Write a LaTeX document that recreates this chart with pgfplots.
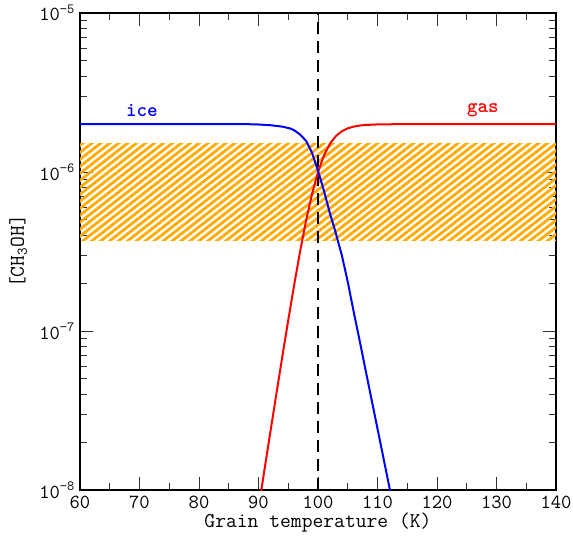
\documentclass[border=0pt]{standalone}
\usepackage{fontspec}
\newfontface\monobold{lmmonolt10-bold.otf}
\usepackage{pgfplots}
\pgfplotsset{compat=1.18}
\usetikzlibrary{patterns.meta}
\definecolor{bandorange}{RGB}{255,170,0}
\begin{document}
\begin{tikzpicture}
\begin{axis}[
  scale only axis, width=476pt, height=477pt,
  ymode=log, xmin=60, xmax=140, ymin=1e-8, ymax=1e-5,
  xtick={60,70,...,140}, minor x tick num=1,
  ytick={1e-8,1e-7,1e-6,1e-5},
  yticklabels={10\textsuperscript{−8},10\textsuperscript{−7},10\textsuperscript{−6},10\textsuperscript{−5}},
  minor ytick={2e-8,3e-8,4e-8,5e-8,6e-8,7e-8,8e-8,9e-8,2e-7,3e-7,4e-7,5e-7,6e-7,7e-7,8e-7,9e-7,2e-6,3e-6,4e-6,5e-6,6e-6,7e-6,8e-6,9e-6},
  /pgf/number format/assume math mode=true,
  tick align=inside, major tick length=13pt, minor tick length=7pt,
  tick style={black!80, line width=0.8pt},
  axis line style={line width=1.2pt},
  tick label style={font=\ttfamily\fontsize{20}{24}\selectfont},
  xticklabel style={anchor=center, yshift=-12.5pt, inner sep=0pt},
  yticklabel style={anchor=east, xshift=-5pt, inner sep=0pt},
  label style={font=\ttfamily\fontsize{21}{24}\selectfont, inner sep=0pt},
  xlabel={Grain temperature (K)},
  ylabel={[CH\textsubscript{3}OH]},
  xlabel style={at={(axis description cs:0.5,-0.069)}, anchor=center},
  ylabel style={at={(axis description cs:-0.13,0.5)}, anchor=center},
  clip=true,
]
\coordinate (bl) at (rel axis cs:0,0);
\coordinate (tr) at (rel axis cs:1,1);
\addplot[draw=none, pattern={Lines[angle=38,distance=5.5pt,line width=2.8pt]}, pattern color=bandorange]
  coordinates {(60,3.73e-7) (140,3.73e-7) (140,1.52e-6) (60,1.52e-6)} -- cycle;
\addplot[black, line width=2pt, dash pattern=on 12pt off 7pt] coordinates {(100,1e-8) (100,1e-5)};
\addplot[red, line width=2pt] coordinates {
(89,4.43e-9) (90,7.70e-9) (91,1.339e-8) (92,2.322e-8) (93,4.011e-8) (94,6.889e-8)
(95,1.171e-7) (96,1.956e-7) (97,3.178e-7) (98,4.953e-7) (99,7.291e-7) (100,1.0e-6)
(101,1.271e-6) (102,1.505e-6) (103,1.682e-6) (104,1.804e-6) (105,1.883e-6)
(106,1.931e-6) (107,1.960e-6) (108,1.977e-6) (110,1.992e-6) (112,1.997e-6)
(115,2.0e-6) (140,2.0e-6)};
\addplot[blue, line width=2pt] coordinates {
(60,2.0e-6) (88,2.0e-6) (90,1.99e-6) (92,1.97e-6) (94,1.93e-6) (95.3,1.88e-6)
(96,1.83e-6) (97,1.72e-6) (98,1.57e-6) (99,1.32e-6) (100,1.02e-6) (101,7.6e-7)
(102,5.5e-7) (102.86,4.3e-7) (104,3.0e-7) (105,2.04e-7) (106,1.32e-7) (107,8.7e-8)
(108,5.67e-8) (110,2.43e-8) (112,1.04e-8) (113,6.8e-9)};
\node[blue, font=\monobold\fontsize{20}{24}\selectfont] at (axis cs:70.4,2.45e-6) {ice};
\node[red, font=\monobold\fontsize{20}{24}\selectfont] at (axis cs:127.7,2.45e-6) {gas};
\end{axis}
\pgfresetboundingbox
\useasboundingbox ([xshift=-80pt,yshift=-46pt]bl) rectangle ([xshift=17pt,yshift=13pt]tr);
\end{tikzpicture}
\end{document}
